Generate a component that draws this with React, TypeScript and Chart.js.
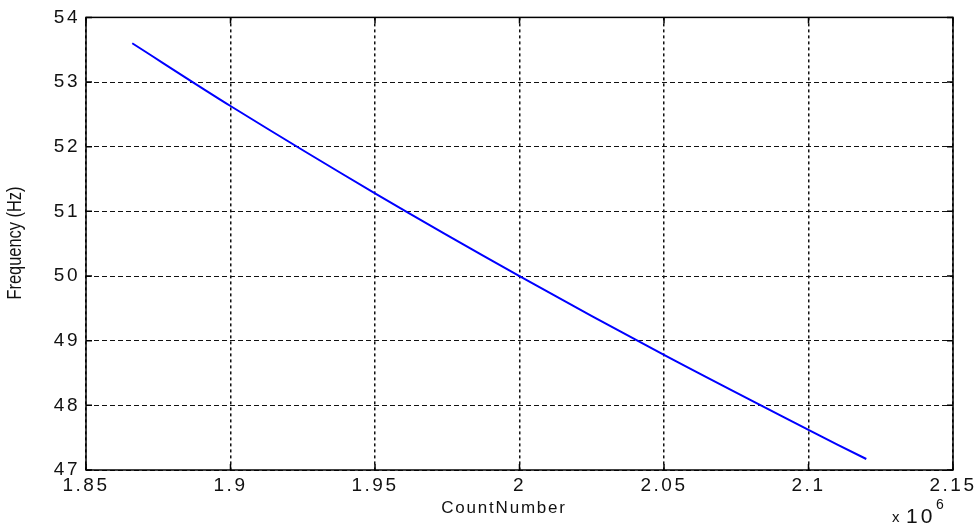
import React, { useEffect, useRef } from "react";
import { Chart, registerables } from "chart.js";

Chart.register(...registerables);

// CountNumber values (raw counts) and measured frequency
const countNumbers = [1866000, 1900000, 1950000, 2000000, 2050000, 2100000, 2120000];
const frequencies = [53.6, 52.63, 51.28, 50.0, 48.78, 47.62, 47.17];

const xMin = 1850000;
const xMax = 2150000;
const xStep = 50000;
const yMin = 47;
const yMax = 54;
const yStep = 1;

const xTitle = "CountNumber";
const yTitle = "Frequency (Hz)";
const xExponent = "6";

const W = 980;
const H = 527;
const AREA = { left: 86, top: 15, right: 953, bottom: 470 };

const TICK_FONT = "'Liberation Sans', Arial, sans-serif";

const matlabPlugin = {
  id: "matlabStyle",
  beforeDraw(chart: any) {
    (chart.ctx as any).letterSpacing = "2.5px";
  },
  afterDraw(chart: any) {
    const ctx = chart.ctx as CanvasRenderingContext2D;
    const ca = chart.chartArea;
    const xs = chart.scales.x;
    const ys = chart.scales.y;
    ctx.save();
    (ctx as any).letterSpacing = "0px";
    // frame
    ctx.strokeStyle = "#000";
    ctx.lineWidth = 1.5;
    ctx.setLineDash([]);
    ctx.strokeRect(ca.left, ca.top, ca.right - ca.left, ca.bottom - ca.top);
    // inward ticks
    const tl = 6;
    ctx.lineWidth = 1.5;
    ctx.beginPath();
    xs.ticks.forEach((t: any) => {
      const px = xs.getPixelForValue(t.value);
      ctx.moveTo(px, ca.bottom);
      ctx.lineTo(px, ca.bottom - tl);
      ctx.moveTo(px, ca.top);
      ctx.lineTo(px, ca.top + tl);
    });
    ys.ticks.forEach((t: any) => {
      const py = ys.getPixelForValue(t.value);
      ctx.moveTo(ca.left, py);
      ctx.lineTo(ca.left + tl, py);
      ctx.moveTo(ca.right, py);
      ctx.lineTo(ca.right - tl, py);
    });
    ctx.stroke();

    ctx.fillStyle = "#111";
    // x title
    (ctx as any).letterSpacing = "1.8px";
    ctx.font = `17px ${TICK_FONT}`;
    ctx.textAlign = "center";
    ctx.textBaseline = "middle";
    ctx.fillText(xTitle, 504, 508);

    // y title (narrow)
    (ctx as any).letterSpacing = "0px";
    ctx.save();
    ctx.translate(15, 243);
    ctx.rotate(-Math.PI / 2);
    ctx.scale(0.82, 1);
    ctx.font = `20px ${TICK_FONT}`;
    ctx.textAlign = "center";
    ctx.textBaseline = "middle";
    ctx.fillText(yTitle, 0, 0);
    ctx.restore();

    // exponent label
    ctx.textAlign = "left";
    ctx.textBaseline = "alphabetic";
    ctx.font = `15px ${TICK_FONT}`;
    ctx.fillText("x", 892, 522);
    (ctx as any).letterSpacing = "3px";
    ctx.font = `21px ${TICK_FONT}`;
    ctx.fillText("10", 906, 523);
    (ctx as any).letterSpacing = "0px";
    ctx.font = `14px ${TICK_FONT}`;
    ctx.fillText(xExponent, 936, 509);
    ctx.restore();
  },
};

export default function App() {
  const ref = useRef<HTMLCanvasElement | null>(null);
  useEffect(() => {
    if (!ref.current) return;
    const chart = new Chart(ref.current, {
      type: "line",
      data: {
        datasets: [
          {
            data: countNumbers.map((c, i) => ({ x: c, y: frequencies[i] })),
            borderColor: "#0000ff",
            borderWidth: 2,
            pointRadius: 0,
            tension: 0.3,
            fill: false,
          },
        ],
      },
      options: {
        responsive: false,
        animation: false,
        events: [],
        layout: { padding: { top: AREA.top, right: W - AREA.right, left: 0, bottom: 0 } },
        plugins: { legend: { display: false }, tooltip: { enabled: false } },
        scales: {
          x: {
            type: "linear",
            min: xMin,
            max: xMax,
            afterFit: (s: any) => {
              s.height = H - AREA.bottom;
            },
            ticks: {
              stepSize: xStep,
              color: "#111",
              padding: 4,
              maxRotation: 0,
              autoSkip: false,
              font: { family: TICK_FONT, size: 19 },
              callback: (v: any) => String(parseFloat((Number(v) / 1e6).toFixed(3))),
            },
            grid: { color: "#111", lineWidth: 1.5, drawTicks: false },
            border: { display: false, dash: [3, 3] },
          },
          y: {
            type: "linear",
            min: yMin,
            max: yMax,
            afterFit: (s: any) => {
              s.width = AREA.left;
            },
            ticks: {
              stepSize: yStep,
              color: "#111",
              padding: 6,
              autoSkip: false,
              font: { family: TICK_FONT, size: 19 },
            },
            grid: { color: "#111", lineWidth: 1, drawTicks: false },
            border: { display: false, dash: [5, 3] },
          },
        },
      },
      plugins: [matlabPlugin],
    });
    return () => chart.destroy();
  }, []);
  return (
    <div style={{ position: "absolute", left: 0, top: 0, width: W, height: H, background: "#fff" }}>
      <canvas ref={ref} width={W} height={H} style={{ display: "block" }} />
    </div>
  );
}
